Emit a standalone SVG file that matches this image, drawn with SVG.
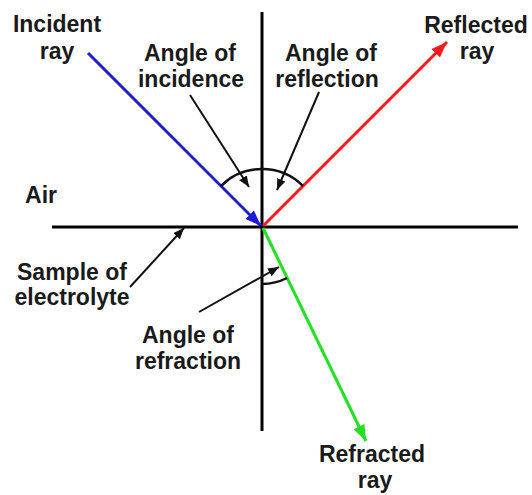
<svg xmlns="http://www.w3.org/2000/svg" width="532" height="495" viewBox="0 0 532 495">
<style>
text{font-family:"Liberation Sans",Arial,sans-serif;font-weight:bold;font-size:23px;fill:#1a1a1a;text-anchor:middle}
.axis{stroke:#000;stroke-width:3;fill:none}
.ptr{stroke:#111;stroke-width:2;fill:none}
.arc{stroke:#111;stroke-width:2.5;fill:none}
</style>
<defs>
<marker id="hb" markerUnits="userSpaceOnUse" markerWidth="18" markerHeight="14" refX="16" refY="6" orient="auto"><path d="M0,0 L16,6 L0,12 Z" fill="#1a1ad8"/></marker>
<marker id="hr" markerUnits="userSpaceOnUse" markerWidth="18" markerHeight="14" refX="16" refY="6" orient="auto"><path d="M0,0 L16,6 L0,12 Z" fill="#ee1c1c"/></marker>
<marker id="hg" markerUnits="userSpaceOnUse" markerWidth="18" markerHeight="14" refX="16" refY="6" orient="auto"><path d="M0,0 L16,6 L0,12 Z" fill="#22e022"/></marker>
<marker id="hk" markerUnits="userSpaceOnUse" markerWidth="12" markerHeight="10" refX="11" refY="4.5" orient="auto"><path d="M0,0 L11,4.5 L0,9 Z" fill="#111"/></marker>
</defs>
<rect width="532" height="495" fill="#fff"/>
<g id="connectors">
<line class="axis" x1="262" y1="12" x2="262" y2="431"/>
<line class="axis" x1="52" y1="227" x2="518" y2="227"/>
<line x1="88" y1="53" x2="261" y2="226" stroke="#1a1ad8" stroke-width="3" marker-end="url(#hb)"/>
<line x1="263" y1="226" x2="447" y2="42" stroke="#ee1c1c" stroke-width="3" marker-end="url(#hr)"/>
<line x1="263" y1="228" x2="366" y2="441" stroke="#22e022" stroke-width="3" marker-end="url(#hg)"/>
<path class="arc" d="M221,186 A58 58 0 0 1 303,186"/>
<path class="arc" d="M262,284 A57 57 0 0 0 287,278"/>
<line class="ptr" x1="190" y1="95" x2="249" y2="187" marker-end="url(#hk)"/>
<line class="ptr" x1="319" y1="92" x2="277" y2="190" marker-end="url(#hk)"/>
<line class="ptr" x1="199" y1="312" x2="279" y2="267" marker-end="url(#hk)"/>
<line class="ptr" x1="130" y1="287" x2="184" y2="228" marker-end="url(#hk)"/>
</g>
<g id="incident-label"><text x="57" y="32">Incident</text><text x="57" y="59">ray</text></g>
<g id="incidence-label"><text x="190" y="61">Angle of</text><text x="191" y="87">incidence</text></g>
<g id="reflection-label"><text x="331" y="61">Angle of</text><text x="327" y="87">reflection</text></g>
<g id="reflected-label"><text x="476" y="33">Reflected</text><text x="477" y="59">ray</text></g>
<g id="air-label"><text x="41" y="203">Air</text></g>
<g id="sample-label"><text x="72" y="280">Sample of</text><text x="72" y="305">electrolyte</text></g>
<g id="refraction-label"><text x="188" y="343">Angle of</text><text x="188" y="369">refraction</text></g>
<g id="refracted-label"><text x="372" y="462">Refracted</text><text x="375" y="488">ray</text></g>
</svg>
